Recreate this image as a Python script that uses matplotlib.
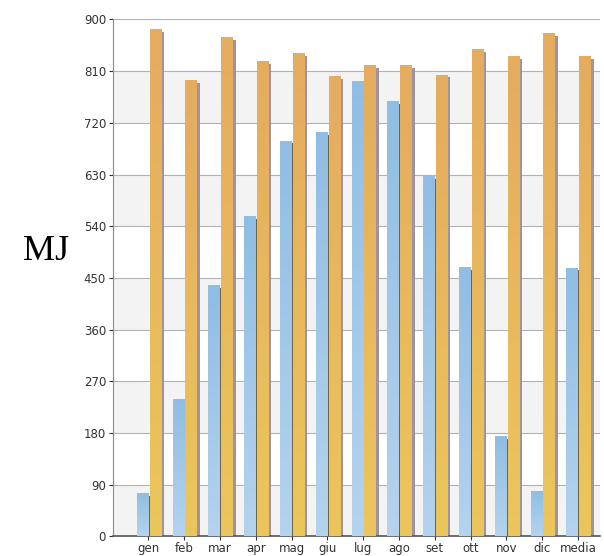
import numpy as np
import matplotlib
matplotlib.use("Agg")
import matplotlib.pyplot as plt
from matplotlib.colors import LinearSegmentedColormap

# Monthly energy (MJ): two series per month plus the yearly mean
mesi = ["gen", "feb", "mar", "apr", "mag", "giu", "lug", "ago",
        "set", "ott", "nov", "dic", "media"]
serie_a = [75, 239, 437, 557, 689, 704, 793, 758, 627, 469, 175, 79, 468]
serie_b = [884, 794, 869, 827, 841, 802, 820, 820, 804, 848, 837, 877, 837]
y_ticks = list(range(0, 901, 90))

blu = LinearSegmentedColormap.from_list("blu", ["#b4d3ee", "#90bde4"])
ora = LinearSegmentedColormap.from_list("ora", ["#ebc65b", "#e5ab5f"])
grad = np.linspace(0, 1, 128).reshape(-1, 1)

fig = plt.figure(figsize=(6.04, 5.56), dpi=100)
ax = fig.add_axes([0.187, 0.0355, 0.806, 0.9295])

x = np.arange(len(mesi))
w = 0.31
dx, dy = 0.09, 5.0

# alternating horizontal bands
for lo in range(0, 900, 180):
    ax.axhspan(lo, lo + 90, color="#f3f3f3", zorder=0, lw=0)
for t in y_ticks[1:]:
    ax.axhline(t, color="#b2b2b2", lw=0.8, zorder=1)

# drop shadows
ax.bar(x - 0.17 + dx, np.array(serie_a) - dy, w, color="#6f6543", zorder=2)
ax.bar(x + 0.19 + dx, np.array(serie_b) - dy, w, color="#9d94a0", zorder=2)

bars_a = ax.bar(x - 0.17, serie_a, w, color="none", zorder=3)
bars_b = ax.bar(x + 0.19, serie_b, w, color="none", zorder=4)
for bars, cmap, z in ((bars_a, blu, 3), (bars_b, ora, 4)):
    for b in bars:
        x0, h = b.get_x(), b.get_height()
        im = ax.imshow(grad, extent=[x0, x0 + b.get_width(), 0, h],
                       origin="lower", aspect="auto", cmap=cmap, zorder=z)
        im.set_clip_path(b)

ax.set_xlim(-0.99, 12.61)
ax.set_ylim(0, 900)
ax.set_yticks(y_ticks)
ax.set_xticks(x)
ax.set_xticklabels(mesi)
ax.tick_params(axis="both", labelsize=8.5, colors="#333333", length=3,
               width=0.8, pad=2)
ax.tick_params(axis="x", pad=1)
for s in ("top", "right"):
    ax.spines[s].set_visible(False)
ax.spines["left"].set_color("#8a8a8a")
ax.spines["bottom"].set_color("#555555")
ax.spines["bottom"].set_linewidth(1.2)

fig.text(0.076, 0.548, "MJ", family="Liberation Serif", fontsize=26,
         ha="center", va="center", color="black")

fig.savefig("out.png", dpi=100)
